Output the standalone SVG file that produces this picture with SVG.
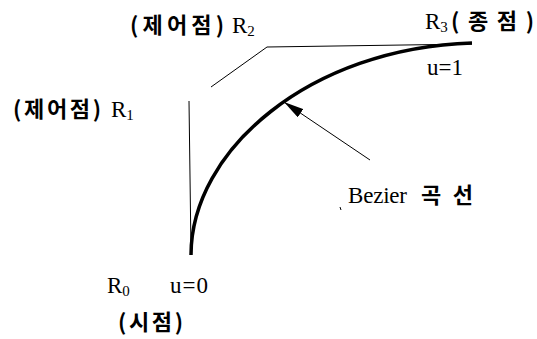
<svg xmlns="http://www.w3.org/2000/svg" width="537" height="339" viewBox="0 0 537 339">
<style>
.t{font-family:"Liberation Serif","Noto Sans CJK KR",serif;font-size:23px;fill:#000}
.k{font-family:"Noto Sans CJK KR","Liberation Serif",serif;font-size:22px;font-weight:bold;fill:#000}
.s{font-size:15px}
.poly{fill:none;stroke:#000;stroke-width:1}
</style>
<defs>
<marker id="ah" viewBox="0 0 20 10" refX="20" refY="5" markerWidth="20" markerHeight="10" markerUnits="userSpaceOnUse" orient="auto">
<path d="M0,0 L20,5 L0,10 Z" fill="#000"/>
</marker>
</defs>
<rect width="537" height="339" fill="#fff"/>
<g id="connectors">
<path class="poly" d="M191,252 L189,101"/>
<path class="poly" d="M211,87 L267,47 L472,44"/>
<path id="bezier" d="M191,255 C191,150 310,48 472,43" fill="none" stroke="#000" stroke-width="3.5"/>
<line x1="370" y1="160" x2="284" y2="102" stroke="#000" stroke-width="1" marker-end="url(#ah)"/>
<path d="M340,207 L341,210" stroke="#000" stroke-width="1"/>
</g>
<g id="R2">
<text class="k" x="130" y="33" textLength="94" lengthAdjust="spacing">(제어점)</text>
<text class="t" x="232" y="33">R<tspan class="s" dy="3">2</tspan></text>
</g>
<g id="R3">
<text class="t" x="425" y="29">R<tspan class="s" dy="3">3</tspan></text>
<text class="k" x="451" y="29" textLength="83" lengthAdjust="spacing">(종점)</text>
<text class="t" x="427" y="75" textLength="36" lengthAdjust="spacing">u=1</text>
</g>
<g id="R1">
<text class="k" x="13" y="117" textLength="88" lengthAdjust="spacing">(제어점)</text>
<text class="t" x="111" y="117">R<tspan class="s" dy="3">1</tspan></text>
</g>
<g id="label">
<text class="t" x="348" y="203" textLength="59" lengthAdjust="spacing">Bezier</text>
<text class="k" x="421" y="203" textLength="52" lengthAdjust="spacing">곡선</text>
</g>
<g id="R0">
<text class="t" x="107" y="293">R<tspan class="s" dy="3">0</tspan></text>
<text class="t" x="170" y="293" textLength="38" lengthAdjust="spacing">u=0</text>
<text class="k" x="118" y="330" textLength="65" lengthAdjust="spacing">(시점)</text>
</g>
</svg>
